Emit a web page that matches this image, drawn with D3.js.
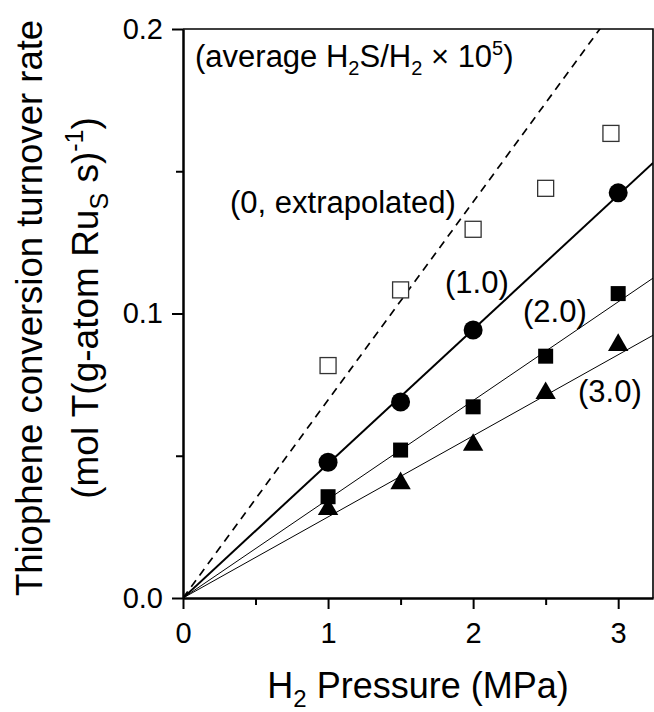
<html>
<head>
<script src="https://d3js.org/d3.v7.min.js"></script>
<style>
  body { margin: 0; background: #fff; }
  svg text { font-family: "Liberation Sans", Arial, sans-serif; fill: #000; }
</style>
</head>
<body>
<script>
// values
var pressure = [1, 1.5, 2, 2.5, 3];
var pressureExtrap = [1, 1.5, 2, 2.5, 2.95];
var pressure10 = [1, 1.5, 2, 3];
var rateExtrap = [0.0817, 0.1083, 0.1296, 0.144, 0.1633];   // open squares
var rate10 = [0.0477, 0.0689, 0.0942, 0.1424];              // circles
var rate20 = [0.0356, 0.052, 0.0672, 0.085, 0.107];         // filled squares
var rate30 = [0.0312, 0.0403, 0.0538, 0.072, 0.0889];       // triangles
var fitSlopes = [0.0696, 0.0472, 0.0347, 0.0285];           // lines through origin
var xTicks = [0, 1, 2, 3], xMinor = [0.5, 1.5, 2.5];
var yTicks = [0, 0.1, 0.2], yMinor = [0.05, 0.15];

var width = 654, height = 712;
var plotL = 183, plotR = 653, plotT = 29, plotB = 598;

var svg = d3.select("body").append("svg")
  .attr("width", width).attr("height", height);

var x = d3.scaleLinear().domain([0, 3.24]).range([plotL, plotR]);
var y = d3.scaleLinear().domain([0, 0.2]).range([plotB, plotT]);

svg.append("clipPath").attr("id", "plot")
  .append("rect").attr("x", plotL).attr("y", plotT)
  .attr("width", plotR - plotL).attr("height", plotB - plotT);

// frame top + right
svg.append("path")
  .attr("d", "M" + plotL + "," + plotT + "H" + plotR + "V" + plotB)
  .attr("fill", "none").attr("stroke", "#000").attr("stroke-width", 1.6);

// fitted lines
var lineStyles = [
  { w: 1.7, dash: "8,6" },
  { w: 2, dash: null },
  { w: 1, dash: null },
  { w: 1, dash: null }
];
svg.append("g").attr("clip-path", "url(#plot)")
  .selectAll("line").data(fitSlopes).enter().append("line")
  .attr("x1", x(0)).attr("y1", y(0))
  .attr("x2", x(3.24)).attr("y2", function(d) { return y(d * 3.24); })
  .attr("stroke", "#000")
  .attr("stroke-width", function(d, i) { return lineStyles[i].w; })
  .attr("stroke-dasharray", function(d, i) { return lineStyles[i].dash; });

// axes
function styleAxis(g) {
  g.attr("font-size", null).attr("font-family", null);
  g.selectAll("path").attr("stroke-width", 2);
  g.selectAll("line").attr("stroke-width", 2);
  g.selectAll("text").style("font-size", "29px");
}
svg.append("g").attr("transform", "translate(0," + plotB + ")")
  .call(d3.axisBottom(x).tickValues(xMinor).tickSize(7).tickSizeOuter(0).tickFormat(""))
  .call(styleAxis);
svg.append("g").attr("transform", "translate(" + plotL + ",0)")
  .call(d3.axisLeft(y).tickValues(yMinor).tickSize(7).tickSizeOuter(0).tickFormat(""))
  .call(styleAxis);
svg.append("g").attr("transform", "translate(0," + plotB + ")")
  .call(d3.axisBottom(x).tickValues(xTicks).tickSize(11).tickPadding(13)
    .tickSizeOuter(0).tickFormat(d3.format("d")))
  .call(styleAxis);
svg.append("g").attr("transform", "translate(" + plotL + ",0)")
  .call(d3.axisLeft(y).tickValues(yTicks).tickSize(11).tickPadding(9)
    .tickSizeOuter(0).tickFormat(d3.format(".1f")))
  .call(styleAxis);

// markers
var pts = svg.append("g");
pts.selectAll(".open").data(rateExtrap).enter().append("rect")
  .attr("x", function(d, i) { return x(pressureExtrap[i]) - 8; })
  .attr("y", function(d) { return y(d) - 8; })
  .attr("width", 16).attr("height", 16)
  .attr("fill", "#fff").attr("stroke", "#333").attr("stroke-width", 1.3);
pts.selectAll(".circ").data(rate10).enter().append("circle")
  .attr("cx", function(d, i) { return x(pressure10[i]); })
  .attr("cy", function(d) { return y(d); })
  .attr("r", 9.5).attr("fill", "#000");
pts.selectAll(".sq").data(rate20).enter().append("rect")
  .attr("x", function(d, i) { return x(pressure[i]) - 7.5; })
  .attr("y", function(d) { return y(d) - 7.5; })
  .attr("width", 15).attr("height", 15).attr("fill", "#000");
pts.selectAll(".tri").data(rate30).enter().append("path")
  .attr("transform", function(d, i) { return "translate(" + x(pressure[i]) + "," + y(d) + ")"; })
  .attr("d", d3.symbol().type(d3.symbolTriangle).size(180))
  .attr("fill", "#000");

// annotations
var note = svg.append("text").attr("x", 195).attr("y", 67).style("font-size", "31px");
note.append("tspan").text("(average H");
note.append("tspan").attr("dy", 8).style("font-size", "20px").text("2");
note.append("tspan").attr("dy", -8).text("S/H");
note.append("tspan").attr("dy", 8).style("font-size", "20px").text("2");
note.append("tspan").attr("dy", -8).text(" \u00d7 10");
note.append("tspan").attr("dy", -12).style("font-size", "20px").text("5");
note.append("tspan").attr("dy", 12).text(")");

var labels = ["(0, extrapolated)", "(1.0)", "(2.0)", "(3.0)"];
var labelPos = [[230, 213], [445, 293], [523, 322], [578, 402]];
svg.selectAll(".lab").data(labels).enter().append("text")
  .attr("x", function(d, i) { return labelPos[i][0]; })
  .attr("y", function(d, i) { return labelPos[i][1]; })
  .style("font-size", "31px")
  .text(function(d) { return d; });

// axis titles
var xt = svg.append("text").attr("x", (plotL + plotR) / 2).attr("y", 698)
  .attr("text-anchor", "middle").style("font-size", "36px");
xt.append("tspan").text("H");
xt.append("tspan").attr("dy", 9).style("font-size", "24px").text("2");
xt.append("tspan").attr("dy", -9).text(" Pressure (MPa)");

var yt = svg.append("g").attr("transform", "translate(42,308) rotate(-90)");
yt.append("text").attr("text-anchor", "middle").style("font-size", "36.5px")
  .text("Thiophene conversion turnover rate");
var yt2 = yt.append("text").attr("y", 56).attr("text-anchor", "middle").style("font-size", "37px");
yt2.append("tspan").text("(mol T(g-atom Ru");
yt2.append("tspan").attr("dy", 10).style("font-size", "25px").text("S");
yt2.append("tspan").attr("dy", -10).text(" s)");
yt2.append("tspan").attr("dy", -15).style("font-size", "25px").text("-1");
yt2.append("tspan").attr("dy", 15).text(")");
</script>
</body>
</html>
